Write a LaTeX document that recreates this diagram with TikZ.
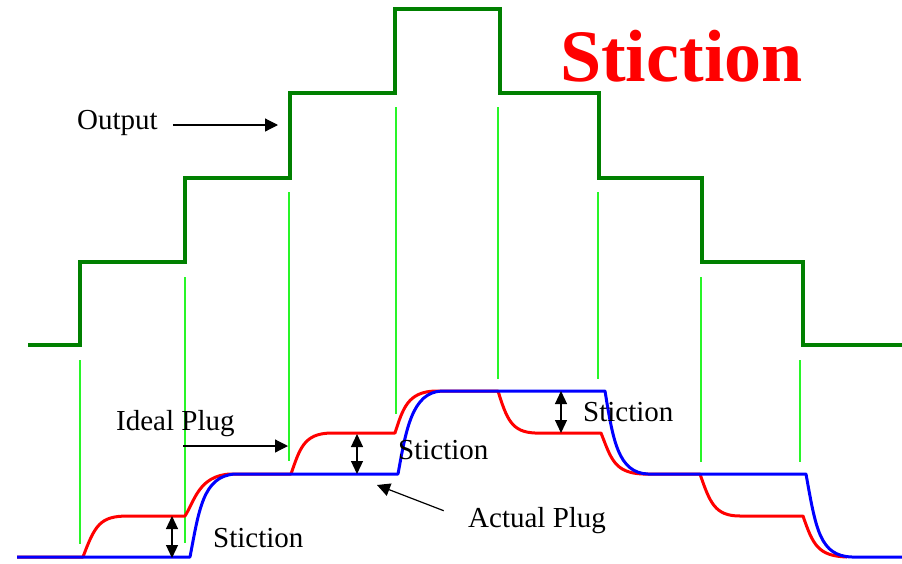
\documentclass[tikz,border=0pt]{standalone}
\usepackage{fontspec}
\setmainfont{Liberation Serif}
\usetikzlibrary{arrows.meta}
\usetikzlibrary{positioning}
\tikzset{line/.style={draw, line width=1.2pt, -{Triangle[length=13pt,width=13pt]}}}
\definecolor{outgreen}{RGB}{0,128,0}
\definecolor{markgreen}{RGB}{40,245,40}
\definecolor{idealred}{RGB}{255,0,0}
\definecolor{actualblue}{RGB}{0,0,255}

\begin{document}
\begin{tikzpicture}[x=1pt,y=-1pt]
\tikzstyle{label} = [inner sep=0pt, anchor=base west, font=\fontsize{29}{34}\selectfont]
\tikzstyle{guide} = [draw=markgreen, line width=2pt]
\tikzstyle{trace} = [line width=3pt, line join=round]
\tikzstyle{gap} = [draw, line width=1.2pt, {Triangle[length=13pt,width=12pt]}-{Triangle[length=13pt,width=12pt]}]

\useasboundingbox (0,0) rectangle (902,563);

% output steps
    \draw[outgreen, line width=3.2pt] (28,345) -- (80,345) -- (80,262) -- (185,262) -- (185,178)
        -- (290,178) -- (290,93) -- (395,93) -- (395,9) -- (500,9) -- (500,93) -- (599,93)
        -- (599,178) -- (702,178) -- (702,262) -- (803,262) -- (803,345) -- (902,345);
    \foreach \x/\a/\b in {80/360/544, 185/277/543, 289/192/461, 396/107/414,
                         498/107/379, 598/192/379, 701/277/462, 800/360/462}
        \path[guide] (\x,\a) -- (\x,\b);
% plug curves
    \draw[trace, idealred] (17,557) -- (83,557)
        .. controls (95,525) and (100,516) .. (128,516) -- (185,516)
        .. controls (195,500) and (199,476) .. (230,474) -- (291,474)
        .. controls (300,448) and (304,434) .. (330,433) -- (395,433)
        .. controls (403,408) and (408,392) .. (435,391) -- (498,391)
        .. controls (507,420) and (512,432) .. (535,433) -- (601,433)
        .. controls (611,458) and (614,473) .. (643,474) -- (700,474)
        .. controls (710,503) and (715,516) .. (740,516) -- (803,516)
        .. controls (813,545) and (818,556) .. (847,557);
    \draw[trace, actualblue] (17,557) -- (190,557)
        .. controls (199,510) and (203,476) .. (235,474) -- (398,474)
        .. controls (406,430) and (412,392) .. (442,391) -- (605,391)
        .. controls (613,440) and (618,473) .. (648,474) -- (806,474)
        .. controls (816,530) and (820,556) .. (852,557) -- (902,557);
% labels
    \node[label, font=\fontsize{74}{80}\selectfont\bfseries, text=idealred] (title) at (560,81) {Stiction};
    \node[label] (out) at (77,129) {Output};
    \node[label] (ideal) at (116,430) {Ideal Plug};
    \node[label] (actual) at (468,527) {Actual Plug};
    \node[label] (st1) at (213,547) {Stiction};
    \node[label] (st2) at (398,459) {Stiction};
    \node[label] (st3) at (583,421) {Stiction};
% arrows
    \coordinate (outtip) at (278,125);
    \coordinate (idealtip) at (288,446);
    \coordinate (actualtip) at (377,485);
    \path [line, shorten <=15pt] (out.east |- outtip) -- (outtip);
    \path [line, shorten <=8pt] (ideal |- idealtip) -- (idealtip);
    \path [line, shorten <=26pt] (actual.west) -- (actualtip);
    \coordinate (g1-a) at (172,516);
    \coordinate (g1-b) at (172,558);
    \coordinate (g2-a) at (357,434);
    \coordinate (g2-b) at (357,474);
    \coordinate (g3-a) at (561,391);
    \coordinate (g3-b) at (561,433);
    \foreach \g in {g1,g2,g3}
        \path [gap] (\g-a) -- (\g-b);
\end{tikzpicture}
\end{document}
